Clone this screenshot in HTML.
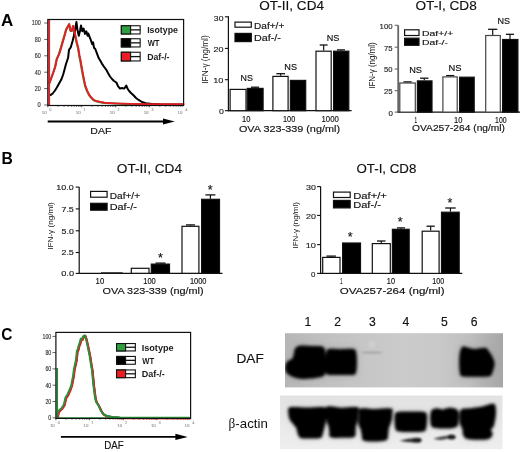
<!DOCTYPE html>
<html><head><meta charset="utf-8"><style>
html,body{margin:0;padding:0;background:#fff;}
svg{display:block;font-family:"Liberation Sans", sans-serif;filter:blur(0.35px);}
</style></head><body>
<svg width="520" height="452" viewBox="0 0 520 452">
<rect width="520" height="452" fill="#fff"/>
<text x="0.88" y="26.40" font-size="17" font-weight="bold" fill="#000" text-anchor="start" textLength="12.23" lengthAdjust="spacingAndGlyphs">A</text>
<text x="1.38" y="163.50" font-size="16.5" font-weight="bold" fill="#000" text-anchor="start" textLength="11.37" lengthAdjust="spacingAndGlyphs">B</text>
<text x="1.28" y="339.60" font-size="16.5" font-weight="bold" fill="#000" text-anchor="start" textLength="11.14" lengthAdjust="spacingAndGlyphs">C</text>
<text x="40.80" y="25.40" font-size="7" fill="#333" stroke="#333" stroke-width="0.15" text-anchor="end" textLength="9.00" lengthAdjust="spacingAndGlyphs">100</text>
<line x1="44.20" y1="23.00" x2="47.80" y2="23.00" stroke="#555" stroke-width="0.9"/>
<text x="40.80" y="41.80" font-size="7" fill="#333" stroke="#333" stroke-width="0.15" text-anchor="end" textLength="6.00" lengthAdjust="spacingAndGlyphs">80</text>
<line x1="44.20" y1="39.40" x2="47.80" y2="39.40" stroke="#555" stroke-width="0.9"/>
<text x="40.80" y="58.20" font-size="7" fill="#333" stroke="#333" stroke-width="0.15" text-anchor="end" textLength="6.00" lengthAdjust="spacingAndGlyphs">60</text>
<line x1="44.20" y1="55.80" x2="47.80" y2="55.80" stroke="#555" stroke-width="0.9"/>
<text x="40.80" y="74.60" font-size="7" fill="#333" stroke="#333" stroke-width="0.15" text-anchor="end" textLength="6.00" lengthAdjust="spacingAndGlyphs">40</text>
<line x1="44.20" y1="72.20" x2="47.80" y2="72.20" stroke="#555" stroke-width="0.9"/>
<text x="40.80" y="91.00" font-size="7" fill="#333" stroke="#333" stroke-width="0.15" text-anchor="end" textLength="6.00" lengthAdjust="spacingAndGlyphs">20</text>
<line x1="44.20" y1="88.60" x2="47.80" y2="88.60" stroke="#555" stroke-width="0.9"/>
<text x="40.80" y="107.40" font-size="7" fill="#333" stroke="#333" stroke-width="0.15" text-anchor="end" textLength="3.20" lengthAdjust="spacingAndGlyphs">0</text>
<line x1="44.20" y1="105.00" x2="47.80" y2="105.00" stroke="#555" stroke-width="0.9"/>
<line x1="47.80" y1="105.50" x2="47.80" y2="107.30" stroke="#333" stroke-width="0.8"/>
<line x1="58.02" y1="105.50" x2="58.02" y2="106.70" stroke="#333" stroke-width="0.8"/>
<line x1="64.00" y1="105.50" x2="64.00" y2="106.70" stroke="#333" stroke-width="0.8"/>
<line x1="68.24" y1="105.50" x2="68.24" y2="106.70" stroke="#333" stroke-width="0.8"/>
<line x1="71.53" y1="105.50" x2="71.53" y2="106.70" stroke="#333" stroke-width="0.8"/>
<line x1="74.22" y1="105.50" x2="74.22" y2="106.70" stroke="#333" stroke-width="0.8"/>
<line x1="76.49" y1="105.50" x2="76.49" y2="106.70" stroke="#333" stroke-width="0.8"/>
<line x1="78.46" y1="105.50" x2="78.46" y2="106.70" stroke="#333" stroke-width="0.8"/>
<line x1="80.20" y1="105.50" x2="80.20" y2="106.70" stroke="#333" stroke-width="0.8"/>
<line x1="81.75" y1="105.50" x2="81.75" y2="107.30" stroke="#333" stroke-width="0.8"/>
<line x1="91.97" y1="105.50" x2="91.97" y2="106.70" stroke="#333" stroke-width="0.8"/>
<line x1="97.95" y1="105.50" x2="97.95" y2="106.70" stroke="#333" stroke-width="0.8"/>
<line x1="102.19" y1="105.50" x2="102.19" y2="106.70" stroke="#333" stroke-width="0.8"/>
<line x1="105.48" y1="105.50" x2="105.48" y2="106.70" stroke="#333" stroke-width="0.8"/>
<line x1="108.17" y1="105.50" x2="108.17" y2="106.70" stroke="#333" stroke-width="0.8"/>
<line x1="110.44" y1="105.50" x2="110.44" y2="106.70" stroke="#333" stroke-width="0.8"/>
<line x1="112.41" y1="105.50" x2="112.41" y2="106.70" stroke="#333" stroke-width="0.8"/>
<line x1="114.15" y1="105.50" x2="114.15" y2="106.70" stroke="#333" stroke-width="0.8"/>
<line x1="115.70" y1="105.50" x2="115.70" y2="107.30" stroke="#333" stroke-width="0.8"/>
<line x1="125.92" y1="105.50" x2="125.92" y2="106.70" stroke="#333" stroke-width="0.8"/>
<line x1="131.90" y1="105.50" x2="131.90" y2="106.70" stroke="#333" stroke-width="0.8"/>
<line x1="136.14" y1="105.50" x2="136.14" y2="106.70" stroke="#333" stroke-width="0.8"/>
<line x1="139.43" y1="105.50" x2="139.43" y2="106.70" stroke="#333" stroke-width="0.8"/>
<line x1="142.12" y1="105.50" x2="142.12" y2="106.70" stroke="#333" stroke-width="0.8"/>
<line x1="144.39" y1="105.50" x2="144.39" y2="106.70" stroke="#333" stroke-width="0.8"/>
<line x1="146.36" y1="105.50" x2="146.36" y2="106.70" stroke="#333" stroke-width="0.8"/>
<line x1="148.10" y1="105.50" x2="148.10" y2="106.70" stroke="#333" stroke-width="0.8"/>
<line x1="149.65" y1="105.50" x2="149.65" y2="107.30" stroke="#333" stroke-width="0.8"/>
<line x1="159.87" y1="105.50" x2="159.87" y2="106.70" stroke="#333" stroke-width="0.8"/>
<line x1="165.85" y1="105.50" x2="165.85" y2="106.70" stroke="#333" stroke-width="0.8"/>
<line x1="170.09" y1="105.50" x2="170.09" y2="106.70" stroke="#333" stroke-width="0.8"/>
<line x1="173.38" y1="105.50" x2="173.38" y2="106.70" stroke="#333" stroke-width="0.8"/>
<line x1="176.07" y1="105.50" x2="176.07" y2="106.70" stroke="#333" stroke-width="0.8"/>
<line x1="178.34" y1="105.50" x2="178.34" y2="106.70" stroke="#333" stroke-width="0.8"/>
<line x1="180.31" y1="105.50" x2="180.31" y2="106.70" stroke="#333" stroke-width="0.8"/>
<line x1="182.05" y1="105.50" x2="182.05" y2="106.70" stroke="#333" stroke-width="0.8"/>
<text x="41.80" y="113.60" font-size="4.4" fill="#999" stroke="#999" stroke-width="0.15" text-anchor="start">10</text>
<text x="49.60" y="111.20" font-size="3.4" fill="#999" stroke="#999" stroke-width="0.15" text-anchor="start">0</text>
<text x="75.75" y="113.60" font-size="4.4" fill="#999" stroke="#999" stroke-width="0.15" text-anchor="start">10</text>
<text x="83.55" y="111.20" font-size="3.4" fill="#999" stroke="#999" stroke-width="0.15" text-anchor="start">1</text>
<text x="109.70" y="113.60" font-size="4.4" fill="#999" stroke="#999" stroke-width="0.15" text-anchor="start">10</text>
<text x="117.50" y="111.20" font-size="3.4" fill="#999" stroke="#999" stroke-width="0.15" text-anchor="start">2</text>
<text x="143.65" y="113.60" font-size="4.4" fill="#999" stroke="#999" stroke-width="0.15" text-anchor="start">10</text>
<text x="151.45" y="111.20" font-size="3.4" fill="#999" stroke="#999" stroke-width="0.15" text-anchor="start">3</text>
<text x="177.60" y="113.60" font-size="4.4" fill="#999" stroke="#999" stroke-width="0.15" text-anchor="start">10</text>
<text x="185.40" y="111.20" font-size="3.4" fill="#999" stroke="#999" stroke-width="0.15" text-anchor="start">4</text>
<polyline points="49.0,83.5 51.0,78.5 53.0,73.0 55.0,67.0 56.6,59.3 58.8,54.4 60.6,48.6 62.4,42.4 64.2,36.2 65.9,30.0 67.3,27.3 69.0,24.3 70.4,30.9 71.7,30.9 73.0,26.0 73.9,30.0 75.2,36.2 76.5,42.4 77.9,47.7 79.2,55.7 80.5,62.0 82.0,70.8 83.5,78.6 85.0,85.9 87.0,91.0 89.0,95.1 91.0,97.6 93.6,100.3 97.0,101.5 100.0,102.1 104.0,102.9 110.0,103.3 120.0,103.8 130.0,104.1 150.0,104.4 184.0,104.5" fill="none" stroke="#2a9a3a" stroke-width="2.1" stroke-linejoin="round"/>
<polyline points="49.5,94.6 50.5,95.1 52.7,93.5 55.0,90.5 56.7,87.7 58.5,84.5 61.3,79.6 63.0,75.0 64.0,71.5 66.0,64.0 68.1,57.8 69.0,49.9 70.8,47.2 72.6,41.0 73.9,35.7 75.2,29.5 76.4,22.0 77.4,29.5 78.8,35.7 80.1,30.4 81.0,25.5 82.3,31.3 83.6,28.6 85.0,33.9 86.3,31.3 87.6,35.7 88.2,33.5 90.4,38.8 92.2,44.2 93.1,42.4 94.0,47.7 95.3,49.0 97.1,53.9 98.8,58.3 100.2,60.5 101.9,63.6 103.7,66.3 105.0,68.0 106.4,70.0 108.0,73.0 110.0,76.5 112.0,79.0 114.0,81.0 116.4,82.5 118.0,86.2 120.0,88.6 122.0,88.0 124.2,88.6 125.2,87.0 126.3,85.6 127.5,88.5 128.6,90.3 131.0,93.0 133.7,95.5 136.0,98.0 139.0,100.2 142.0,102.0 145.9,103.2 152.0,104.1 160.0,104.5 184.0,104.7" fill="none" stroke="#000" stroke-width="2.0" stroke-linejoin="round"/>
<polyline points="49.3,83.3 51.3,78.3 53.3,72.8 55.3,66.8 56.9,59.1 59.1,54.2 60.9,48.4 62.7,42.2 64.5,36.0 66.2,29.8 67.6,27.1 69.3,24.1 70.7,30.7 72.0,30.7 73.3,25.8 74.2,29.8 75.5,36.0 76.8,42.2 78.2,47.5 79.5,55.5 80.8,61.8 82.3,70.6 83.8,78.4 85.3,85.7 87.3,90.8 89.3,94.9 91.3,97.4 93.9,100.1 97.3,101.3 100.3,101.9 104.3,102.7 110.3,103.1 120.3,103.6 130.3,103.9 150.3,104.2 184.3,104.3" fill="none" stroke="#ec1c24" stroke-width="1.9" stroke-linejoin="round"/>
<polyline points="49.2,19.5 49.2,105.5" fill="none" stroke="#ec1c24" stroke-width="1.8" stroke-linejoin="round"/>
<rect x="47.80" y="19.50" width="135.80" height="86.00" fill="none" stroke="#111" stroke-width="1.2"/>
<rect x="121.35" y="25.75" width="18.80" height="8.20" fill="#fff" stroke="#111" stroke-width="1.1"/>
<rect x="121.35" y="25.75" width="9.25" height="8.20" fill="#2e9e40" stroke="#111" stroke-width="1.1"/>
<line x1="130.60" y1="29.85" x2="140.20" y2="29.85" stroke="#111" stroke-width="1.3"/>
<text x="147.13" y="33.10" font-size="9.4" font-weight="bold" fill="#1a1a1a" text-anchor="start" textLength="30.79" lengthAdjust="spacingAndGlyphs">Isotype</text>
<rect x="121.35" y="38.75" width="18.80" height="8.20" fill="#fff" stroke="#111" stroke-width="1.1"/>
<rect x="121.35" y="38.75" width="9.25" height="8.20" fill="#000" stroke="#111" stroke-width="1.1"/>
<line x1="130.60" y1="42.85" x2="140.20" y2="42.85" stroke="#111" stroke-width="1.3"/>
<text x="147.70" y="46.20" font-size="9.4" font-weight="bold" fill="#1a1a1a" text-anchor="start" textLength="11.77" lengthAdjust="spacingAndGlyphs">WT</text>
<rect x="121.35" y="52.25" width="18.80" height="8.70" fill="#fff" stroke="#111" stroke-width="1.1"/>
<rect x="121.35" y="52.25" width="9.25" height="8.70" fill="#ec1c24" stroke="#111" stroke-width="1.1"/>
<line x1="130.60" y1="56.60" x2="140.20" y2="56.60" stroke="#111" stroke-width="1.3"/>
<text x="147.13" y="59.50" font-size="9.4" font-weight="bold" fill="#1a1a1a" text-anchor="start" textLength="22.42" lengthAdjust="spacingAndGlyphs">Daf-/-</text>
<line x1="47.70" y1="121.50" x2="164.00" y2="121.50" stroke="#000" stroke-width="1.8"/>
<polygon points="163,118.4 174.8,121.5 163,124.6" fill="#000"/>
<text x="90.36" y="133.60" font-size="9.8" fill="#111" stroke="#111" stroke-width="0.15" text-anchor="start" textLength="21.06" lengthAdjust="spacingAndGlyphs">DAF</text>
<text x="51.20" y="338.80" font-size="6.8" fill="#333" stroke="#333" stroke-width="0.15" text-anchor="end" textLength="8.70" lengthAdjust="spacingAndGlyphs">100</text>
<line x1="52.50" y1="336.40" x2="55.90" y2="336.40" stroke="#555" stroke-width="0.9"/>
<text x="51.20" y="355.00" font-size="6.8" fill="#333" stroke="#333" stroke-width="0.15" text-anchor="end" textLength="5.80" lengthAdjust="spacingAndGlyphs">80</text>
<line x1="52.50" y1="352.60" x2="55.90" y2="352.60" stroke="#555" stroke-width="0.9"/>
<text x="51.20" y="371.30" font-size="6.8" fill="#333" stroke="#333" stroke-width="0.15" text-anchor="end" textLength="5.80" lengthAdjust="spacingAndGlyphs">60</text>
<line x1="52.50" y1="368.90" x2="55.90" y2="368.90" stroke="#555" stroke-width="0.9"/>
<text x="51.20" y="387.60" font-size="6.8" fill="#333" stroke="#333" stroke-width="0.15" text-anchor="end" textLength="5.80" lengthAdjust="spacingAndGlyphs">40</text>
<line x1="52.50" y1="385.20" x2="55.90" y2="385.20" stroke="#555" stroke-width="0.9"/>
<text x="51.20" y="403.90" font-size="6.8" fill="#333" stroke="#333" stroke-width="0.15" text-anchor="end" textLength="5.80" lengthAdjust="spacingAndGlyphs">20</text>
<line x1="52.50" y1="401.50" x2="55.90" y2="401.50" stroke="#555" stroke-width="0.9"/>
<text x="51.20" y="420.20" font-size="6.8" fill="#333" stroke="#333" stroke-width="0.15" text-anchor="end" textLength="3.00" lengthAdjust="spacingAndGlyphs">0</text>
<line x1="52.50" y1="417.80" x2="55.90" y2="417.80" stroke="#555" stroke-width="0.9"/>
<line x1="55.90" y1="418.40" x2="55.90" y2="420.20" stroke="#333" stroke-width="0.8"/>
<line x1="66.04" y1="418.40" x2="66.04" y2="419.60" stroke="#333" stroke-width="0.8"/>
<line x1="71.97" y1="418.40" x2="71.97" y2="419.60" stroke="#333" stroke-width="0.8"/>
<line x1="76.17" y1="418.40" x2="76.17" y2="419.60" stroke="#333" stroke-width="0.8"/>
<line x1="79.44" y1="418.40" x2="79.44" y2="419.60" stroke="#333" stroke-width="0.8"/>
<line x1="82.10" y1="418.40" x2="82.10" y2="419.60" stroke="#333" stroke-width="0.8"/>
<line x1="84.36" y1="418.40" x2="84.36" y2="419.60" stroke="#333" stroke-width="0.8"/>
<line x1="86.31" y1="418.40" x2="86.31" y2="419.60" stroke="#333" stroke-width="0.8"/>
<line x1="88.03" y1="418.40" x2="88.03" y2="419.60" stroke="#333" stroke-width="0.8"/>
<line x1="89.57" y1="418.40" x2="89.57" y2="420.20" stroke="#333" stroke-width="0.8"/>
<line x1="99.71" y1="418.40" x2="99.71" y2="419.60" stroke="#333" stroke-width="0.8"/>
<line x1="105.64" y1="418.40" x2="105.64" y2="419.60" stroke="#333" stroke-width="0.8"/>
<line x1="109.85" y1="418.40" x2="109.85" y2="419.60" stroke="#333" stroke-width="0.8"/>
<line x1="113.11" y1="418.40" x2="113.11" y2="419.60" stroke="#333" stroke-width="0.8"/>
<line x1="115.78" y1="418.40" x2="115.78" y2="419.60" stroke="#333" stroke-width="0.8"/>
<line x1="118.03" y1="418.40" x2="118.03" y2="419.60" stroke="#333" stroke-width="0.8"/>
<line x1="119.99" y1="418.40" x2="119.99" y2="419.60" stroke="#333" stroke-width="0.8"/>
<line x1="121.71" y1="418.40" x2="121.71" y2="419.60" stroke="#333" stroke-width="0.8"/>
<line x1="123.25" y1="418.40" x2="123.25" y2="420.20" stroke="#333" stroke-width="0.8"/>
<line x1="133.39" y1="418.40" x2="133.39" y2="419.60" stroke="#333" stroke-width="0.8"/>
<line x1="139.32" y1="418.40" x2="139.32" y2="419.60" stroke="#333" stroke-width="0.8"/>
<line x1="143.52" y1="418.40" x2="143.52" y2="419.60" stroke="#333" stroke-width="0.8"/>
<line x1="146.79" y1="418.40" x2="146.79" y2="419.60" stroke="#333" stroke-width="0.8"/>
<line x1="149.45" y1="418.40" x2="149.45" y2="419.60" stroke="#333" stroke-width="0.8"/>
<line x1="151.71" y1="418.40" x2="151.71" y2="419.60" stroke="#333" stroke-width="0.8"/>
<line x1="153.66" y1="418.40" x2="153.66" y2="419.60" stroke="#333" stroke-width="0.8"/>
<line x1="155.38" y1="418.40" x2="155.38" y2="419.60" stroke="#333" stroke-width="0.8"/>
<line x1="156.92" y1="418.40" x2="156.92" y2="420.20" stroke="#333" stroke-width="0.8"/>
<line x1="167.06" y1="418.40" x2="167.06" y2="419.60" stroke="#333" stroke-width="0.8"/>
<line x1="172.99" y1="418.40" x2="172.99" y2="419.60" stroke="#333" stroke-width="0.8"/>
<line x1="177.20" y1="418.40" x2="177.20" y2="419.60" stroke="#333" stroke-width="0.8"/>
<line x1="180.46" y1="418.40" x2="180.46" y2="419.60" stroke="#333" stroke-width="0.8"/>
<line x1="183.13" y1="418.40" x2="183.13" y2="419.60" stroke="#333" stroke-width="0.8"/>
<line x1="185.38" y1="418.40" x2="185.38" y2="419.60" stroke="#333" stroke-width="0.8"/>
<line x1="187.34" y1="418.40" x2="187.34" y2="419.60" stroke="#333" stroke-width="0.8"/>
<line x1="189.06" y1="418.40" x2="189.06" y2="419.60" stroke="#333" stroke-width="0.8"/>
<text x="49.90" y="426.50" font-size="4.4" fill="#999" stroke="#999" stroke-width="0.15" text-anchor="start">10</text>
<text x="57.70" y="424.10" font-size="3.4" fill="#999" stroke="#999" stroke-width="0.15" text-anchor="start">0</text>
<text x="83.57" y="426.50" font-size="4.4" fill="#999" stroke="#999" stroke-width="0.15" text-anchor="start">10</text>
<text x="91.37" y="424.10" font-size="3.4" fill="#999" stroke="#999" stroke-width="0.15" text-anchor="start">1</text>
<text x="117.25" y="426.50" font-size="4.4" fill="#999" stroke="#999" stroke-width="0.15" text-anchor="start">10</text>
<text x="125.05" y="424.10" font-size="3.4" fill="#999" stroke="#999" stroke-width="0.15" text-anchor="start">2</text>
<text x="150.92" y="426.50" font-size="4.4" fill="#999" stroke="#999" stroke-width="0.15" text-anchor="start">10</text>
<text x="158.72" y="424.10" font-size="3.4" fill="#999" stroke="#999" stroke-width="0.15" text-anchor="start">3</text>
<text x="184.60" y="426.50" font-size="4.4" fill="#999" stroke="#999" stroke-width="0.15" text-anchor="start">10</text>
<text x="192.40" y="424.10" font-size="3.4" fill="#999" stroke="#999" stroke-width="0.15" text-anchor="start">4</text>
<polyline points="57.7,418.4 58.3,413.2 59.6,410.7 62.0,408.7 64.3,405.2 66.1,397.7 67.8,395.4 70.1,390.2 71.8,385.6 73.6,376.2 74.5,369.2 76.5,360.3 77.4,351.4 78.3,349.7 79.1,346.1 80.1,343.7 81.3,339.0 82.4,339.7 83.6,336.8 85.3,335.8 86.6,339.9 88.4,347.9 90.2,356.7 91.5,365.6 92.4,370.2 93.8,385.2 95.5,398.2 96.6,402.3 98.9,405.8 101.3,411.0 103.6,414.4 107.0,416.2 112.8,417.3 120.1,417.8 190.1,418.1" fill="none" stroke="#111" stroke-width="2.0" stroke-linejoin="round"/>
<polyline points="58.0,418.8 58.6,413.6 59.9,411.1 62.3,409.1 64.6,405.6 66.4,398.1 68.1,395.8 70.4,390.6 72.1,386.0 73.9,376.6 74.8,369.6 76.8,360.7 77.7,351.8 78.6,350.1 79.4,346.5 80.4,344.1 81.6,339.4 82.7,340.1 83.9,337.2 85.6,336.2 86.9,340.3 88.7,348.3 90.5,357.1 91.8,366.0 92.7,370.6 94.1,385.6 95.8,398.6 96.9,402.7 99.2,406.2 101.6,411.4 103.9,414.8 107.3,416.6 113.1,417.7 120.4,418.2 190.4,418.5" fill="none" stroke="#ec1c24" stroke-width="1.9" stroke-linejoin="round"/>
<polyline points="57.1,417.9 57.7,412.7 59.0,410.2 61.4,408.2 63.7,404.7 65.5,397.2 67.2,394.9 69.5,389.7 71.2,385.1 73.0,375.7 73.9,368.7 75.9,359.8 76.8,350.9 77.7,349.2 78.5,345.6 79.5,343.2 80.7,338.5 81.8,339.2 83.0,336.3 84.7,335.3 86.0,339.4 87.8,347.4 89.6,356.2 90.9,365.1 91.8,369.7 93.2,384.7 94.9,397.7 96.0,401.8 98.3,405.3 100.7,410.5 103.0,413.9 106.4,415.7 112.2,416.8 119.5,417.3 189.5,417.6" fill="none" stroke="#25953a" stroke-width="1.8" stroke-linejoin="round"/>
<polyline points="57.2,368.0 57.2,418.4" fill="none" stroke="#1e8a35" stroke-width="1.7" stroke-linejoin="round"/>
<polyline points="56.0,418.0 190.5,418.0" fill="none" stroke="#2a9a3a" stroke-width="1.3" stroke-linejoin="round"/>
<rect x="55.90" y="332.40" width="134.70" height="86.00" fill="none" stroke="#111" stroke-width="1.2"/>
<rect x="116.55" y="343.55" width="18.80" height="7.40" fill="#fff" stroke="#111" stroke-width="1.1"/>
<rect x="116.55" y="343.55" width="9.05" height="7.40" fill="#2e9e40" stroke="#111" stroke-width="1.1"/>
<line x1="125.60" y1="347.25" x2="135.40" y2="347.25" stroke="#111" stroke-width="1.3"/>
<text x="141.71" y="350.70" font-size="9.4" font-weight="bold" fill="#1a1a1a" text-anchor="start" textLength="31.92" lengthAdjust="spacingAndGlyphs">Isotype</text>
<rect x="116.55" y="356.45" width="18.80" height="7.80" fill="#fff" stroke="#111" stroke-width="1.1"/>
<rect x="116.55" y="356.45" width="9.05" height="7.80" fill="#000" stroke="#111" stroke-width="1.1"/>
<line x1="125.60" y1="360.35" x2="135.40" y2="360.35" stroke="#111" stroke-width="1.3"/>
<text x="142.30" y="363.50" font-size="9.4" font-weight="bold" fill="#1a1a1a" text-anchor="start" textLength="11.87" lengthAdjust="spacingAndGlyphs">WT</text>
<rect x="116.55" y="369.95" width="18.80" height="7.70" fill="#fff" stroke="#111" stroke-width="1.1"/>
<rect x="116.55" y="369.95" width="9.05" height="7.70" fill="#ec1c24" stroke="#111" stroke-width="1.1"/>
<line x1="125.60" y1="373.80" x2="135.40" y2="373.80" stroke="#111" stroke-width="1.3"/>
<text x="141.71" y="377.00" font-size="9.4" font-weight="bold" fill="#1a1a1a" text-anchor="start" textLength="23.05" lengthAdjust="spacingAndGlyphs">Daf-/-</text>
<line x1="60.90" y1="436.90" x2="176.40" y2="436.90" stroke="#000" stroke-width="1.8"/>
<polygon points="175.4,433.79999999999995 187.7,436.9 175.4,440.0" fill="#000"/>
<text x="104.22" y="449.20" font-size="10.4" fill="#111" stroke="#111" stroke-width="0.15" text-anchor="start" textLength="19.47" lengthAdjust="spacingAndGlyphs">DAF</text>
<line x1="228.40" y1="16.30" x2="228.40" y2="111.30" stroke="#111" stroke-width="1.2"/>
<line x1="227.90" y1="110.70" x2="351.60" y2="110.70" stroke="#111" stroke-width="1.2"/>
<line x1="224.90" y1="16.80" x2="228.40" y2="16.80" stroke="#111" stroke-width="1.1"/>
<line x1="224.90" y1="48.40" x2="228.40" y2="48.40" stroke="#111" stroke-width="1.1"/>
<line x1="224.90" y1="79.70" x2="228.40" y2="79.70" stroke="#111" stroke-width="1.1"/>
<line x1="224.90" y1="110.70" x2="228.40" y2="110.70" stroke="#111" stroke-width="1.1"/>
<text x="213.86" y="20.50" font-size="8" fill="#222" stroke="#222" stroke-width="0.15" text-anchor="start" textLength="9.57" lengthAdjust="spacingAndGlyphs">30</text>
<text x="213.45" y="52.00" font-size="8" fill="#222" stroke="#222" stroke-width="0.15" text-anchor="start" textLength="9.98" lengthAdjust="spacingAndGlyphs">20</text>
<text x="213.21" y="83.30" font-size="8" fill="#222" stroke="#222" stroke-width="0.15" text-anchor="start" textLength="10.23" lengthAdjust="spacingAndGlyphs">10</text>
<text x="219.05" y="114.20" font-size="8" fill="#222" stroke="#222" stroke-width="0.15" text-anchor="start" textLength="4.87" lengthAdjust="spacingAndGlyphs">0</text>
<rect x="230.10" y="89.40" width="15.90" height="21.30" fill="#fff" stroke="#111" stroke-width="1.2"/>
<line x1="255.05" y1="87.80" x2="255.05" y2="87.20" stroke="#111" stroke-width="1.2"/>
<line x1="251.00" y1="87.20" x2="259.10" y2="87.20" stroke="#111" stroke-width="1.3"/>
<rect x="247.20" y="88.40" width="15.90" height="22.30" fill="#000" stroke="#111" stroke-width="1.2"/>
<line x1="280.65" y1="75.80" x2="280.65" y2="73.70" stroke="#111" stroke-width="1.2"/>
<line x1="276.30" y1="73.70" x2="285.00" y2="73.70" stroke="#111" stroke-width="1.3"/>
<rect x="272.90" y="76.40" width="15.20" height="34.30" fill="#fff" stroke="#111" stroke-width="1.2"/>
<rect x="290.40" y="80.40" width="15.30" height="30.30" fill="#000" stroke="#111" stroke-width="1.2"/>
<line x1="323.65" y1="50.60" x2="323.65" y2="45.00" stroke="#111" stroke-width="1.2"/>
<line x1="319.70" y1="45.00" x2="327.60" y2="45.00" stroke="#111" stroke-width="1.3"/>
<rect x="316.00" y="51.20" width="15.20" height="59.50" fill="#fff" stroke="#111" stroke-width="1.2"/>
<line x1="341.00" y1="50.60" x2="341.00" y2="49.90" stroke="#111" stroke-width="1.2"/>
<line x1="337.00" y1="49.90" x2="345.00" y2="49.90" stroke="#111" stroke-width="1.3"/>
<rect x="333.60" y="51.20" width="15.20" height="59.50" fill="#000" stroke="#111" stroke-width="1.2"/>
<text x="240.49" y="81.20" font-size="8.6" fill="#111" stroke="#111" stroke-width="0.15" text-anchor="start" textLength="12.35" lengthAdjust="spacingAndGlyphs">NS</text>
<text x="284.37" y="70.00" font-size="8.6" fill="#111" stroke="#111" stroke-width="0.15" text-anchor="start" textLength="12.68" lengthAdjust="spacingAndGlyphs">NS</text>
<text x="326.67" y="41.40" font-size="8.6" fill="#111" stroke="#111" stroke-width="0.15" text-anchor="start" textLength="12.68" lengthAdjust="spacingAndGlyphs">NS</text>
<text x="242.04" y="121.50" font-size="8.3" fill="#111" stroke="#111" stroke-width="0.15" text-anchor="start" textLength="8.34" lengthAdjust="spacingAndGlyphs">10</text>
<text x="283.05" y="121.50" font-size="8.3" fill="#111" stroke="#111" stroke-width="0.15" text-anchor="start" textLength="12.12" lengthAdjust="spacingAndGlyphs">100</text>
<text x="321.52" y="121.50" font-size="8.3" fill="#111" stroke="#111" stroke-width="0.15" text-anchor="start" textLength="17.25" lengthAdjust="spacingAndGlyphs">1000</text>
<text x="238.91" y="131.60" font-size="9.2" fill="#111" stroke="#111" stroke-width="0.15" text-anchor="start" textLength="101.09" lengthAdjust="spacingAndGlyphs">OVA 323-339 (ng/ml)</text>
<text x="259.29" y="9.80" font-size="13" fill="#111" stroke="#111" stroke-width="0.15" text-anchor="start" textLength="64.66" lengthAdjust="spacingAndGlyphs">OT-II, CD4</text>
<text x="254.10" y="29.10" font-size="8.3" fill="#111" stroke="#111" stroke-width="0.15" text-anchor="start" textLength="30.18" lengthAdjust="spacingAndGlyphs">Daf+/+</text>
<text x="254.04" y="40.90" font-size="8.3" fill="#111" stroke="#111" stroke-width="0.15" text-anchor="start" textLength="26.84" lengthAdjust="spacingAndGlyphs">Daf-/-</text>
<text transform="translate(204.8,59.5) rotate(-90)" x="0" y="0" font-size="8.6" fill="#111" text-anchor="middle" textLength="48.5" lengthAdjust="spacingAndGlyphs" dominant-baseline="central">IFN-&#947; (ng/ml)</text>
<rect x="235.0" y="22.1" width="16.30" height="5.10" fill="#fff" stroke="#111" stroke-width="1.2"/>
<rect x="235.0" y="33.4" width="16.30" height="8.20" fill="#000" stroke="#111" stroke-width="1.2"/>
<line x1="398.20" y1="25.30" x2="398.20" y2="112.70" stroke="#666" stroke-width="1.8"/>
<line x1="397.70" y1="112.10" x2="520.00" y2="112.10" stroke="#111" stroke-width="1.2"/>
<line x1="394.70" y1="25.30" x2="398.20" y2="25.30" stroke="#666" stroke-width="1.1"/>
<line x1="394.70" y1="47.20" x2="398.20" y2="47.20" stroke="#666" stroke-width="1.1"/>
<line x1="394.70" y1="69.00" x2="398.20" y2="69.00" stroke="#666" stroke-width="1.1"/>
<line x1="394.70" y1="90.70" x2="398.20" y2="90.70" stroke="#666" stroke-width="1.1"/>
<line x1="394.70" y1="112.10" x2="398.20" y2="112.10" stroke="#666" stroke-width="1.1"/>
<text x="379.62" y="28.60" font-size="8" fill="#222" stroke="#222" stroke-width="0.15" text-anchor="start" textLength="12.98" lengthAdjust="spacingAndGlyphs">100</text>
<text x="384.01" y="50.60" font-size="8" fill="#222" stroke="#222" stroke-width="0.15" text-anchor="start" textLength="8.62" lengthAdjust="spacingAndGlyphs">75</text>
<text x="384.09" y="72.40" font-size="8" fill="#222" stroke="#222" stroke-width="0.15" text-anchor="start" textLength="8.49" lengthAdjust="spacingAndGlyphs">50</text>
<text x="384.01" y="94.40" font-size="8" fill="#222" stroke="#222" stroke-width="0.15" text-anchor="start" textLength="8.62" lengthAdjust="spacingAndGlyphs">25</text>
<text x="388.38" y="116.00" font-size="8" fill="#222" stroke="#222" stroke-width="0.15" text-anchor="start" textLength="4.40" lengthAdjust="spacingAndGlyphs">0</text>
<line x1="407.55" y1="82.40" x2="407.55" y2="81.90" stroke="#111" stroke-width="1.2"/>
<line x1="403.40" y1="81.90" x2="411.70" y2="81.90" stroke="#111" stroke-width="1.3"/>
<rect x="399.80" y="83.00" width="15.50" height="29.10" fill="#fff" stroke="#444" stroke-width="1.2"/>
<line x1="424.30" y1="80.30" x2="424.30" y2="78.20" stroke="#111" stroke-width="1.2"/>
<line x1="420.10" y1="78.20" x2="428.50" y2="78.20" stroke="#111" stroke-width="1.3"/>
<rect x="417.40" y="80.90" width="14.60" height="31.20" fill="#000" stroke="#111" stroke-width="1.2"/>
<line x1="450.20" y1="76.30" x2="450.20" y2="75.60" stroke="#111" stroke-width="1.2"/>
<line x1="446.10" y1="75.60" x2="454.30" y2="75.60" stroke="#111" stroke-width="1.3"/>
<rect x="442.90" y="76.90" width="14.30" height="35.20" fill="#fff" stroke="#444" stroke-width="1.2"/>
<rect x="459.60" y="77.20" width="14.60" height="34.90" fill="#000" stroke="#111" stroke-width="1.2"/>
<line x1="492.70" y1="34.90" x2="492.70" y2="29.30" stroke="#111" stroke-width="1.2"/>
<line x1="488.10" y1="29.30" x2="497.30" y2="29.30" stroke="#111" stroke-width="1.3"/>
<rect x="485.70" y="35.50" width="14.60" height="76.60" fill="#fff" stroke="#444" stroke-width="1.2"/>
<line x1="510.00" y1="38.90" x2="510.00" y2="34.30" stroke="#111" stroke-width="1.2"/>
<line x1="505.90" y1="34.30" x2="514.10" y2="34.30" stroke="#111" stroke-width="1.3"/>
<rect x="502.60" y="39.50" width="15.30" height="72.60" fill="#000" stroke="#111" stroke-width="1.2"/>
<text x="409.16" y="73.00" font-size="8.6" fill="#111" stroke="#111" stroke-width="0.15" text-anchor="start" textLength="12.79" lengthAdjust="spacingAndGlyphs">NS</text>
<text x="448.55" y="70.70" font-size="8.6" fill="#111" stroke="#111" stroke-width="0.15" text-anchor="start" textLength="13.01" lengthAdjust="spacingAndGlyphs">NS</text>
<text x="497.48" y="23.50" font-size="8.6" fill="#111" stroke="#111" stroke-width="0.15" text-anchor="start" textLength="12.57" lengthAdjust="spacingAndGlyphs">NS</text>
<text x="414.56" y="122.60" font-size="8.3" fill="#111" stroke="#111" stroke-width="0.15" text-anchor="start" textLength="2.56" lengthAdjust="spacingAndGlyphs">1</text>
<text x="454.04" y="122.60" font-size="8.3" fill="#111" stroke="#111" stroke-width="0.15" text-anchor="start" textLength="8.34" lengthAdjust="spacingAndGlyphs">10</text>
<text x="495.08" y="122.60" font-size="8.3" fill="#111" stroke="#111" stroke-width="0.15" text-anchor="start" textLength="11.48" lengthAdjust="spacingAndGlyphs">100</text>
<text x="412.14" y="131.40" font-size="9.2" fill="#111" stroke="#111" stroke-width="0.15" text-anchor="start" textLength="92.89" lengthAdjust="spacingAndGlyphs">OVA257-264 (ng/ml)</text>
<text x="415.49" y="9.70" font-size="13" fill="#111" stroke="#111" stroke-width="0.15" text-anchor="start" textLength="61.26" lengthAdjust="spacingAndGlyphs">OT-I, CD8</text>
<text x="422.07" y="36.30" font-size="7.8" fill="#111" stroke="#111" stroke-width="0.15" text-anchor="start" textLength="31.12" lengthAdjust="spacingAndGlyphs">Daf+/+</text>
<text x="422.07" y="45.10" font-size="7.8" fill="#111" stroke="#111" stroke-width="0.15" text-anchor="start" textLength="25.90" lengthAdjust="spacingAndGlyphs">Daf-/-</text>
<text transform="translate(372,65.5) rotate(-90)" x="0" y="0" font-size="8.4" fill="#111" text-anchor="middle" textLength="46.5" lengthAdjust="spacingAndGlyphs" dominant-baseline="central">IFN-&#947; (ng/ml)</text>
<rect x="404.6" y="29.8" width="14.40" height="5.70" fill="#fff" stroke="#111" stroke-width="1.2"/>
<rect x="404.6" y="38.2" width="14.40" height="7.10" fill="#000" stroke="#111" stroke-width="1.2"/>
<line x1="79.20" y1="187.10" x2="79.20" y2="273.90" stroke="#111" stroke-width="1.2"/>
<line x1="78.70" y1="273.30" x2="222.50" y2="273.30" stroke="#111" stroke-width="1.2"/>
<line x1="75.70" y1="187.10" x2="79.20" y2="187.10" stroke="#111" stroke-width="1.1"/>
<line x1="75.70" y1="208.90" x2="79.20" y2="208.90" stroke="#111" stroke-width="1.1"/>
<line x1="75.70" y1="230.80" x2="79.20" y2="230.80" stroke="#111" stroke-width="1.1"/>
<line x1="75.70" y1="252.50" x2="79.20" y2="252.50" stroke="#111" stroke-width="1.1"/>
<line x1="75.70" y1="273.40" x2="79.20" y2="273.40" stroke="#111" stroke-width="1.1"/>
<text x="56.33" y="189.90" font-size="7.3" fill="#222" stroke="#222" stroke-width="0.15" text-anchor="start" textLength="17.39" lengthAdjust="spacingAndGlyphs">10.0</text>
<text x="61.45" y="211.60" font-size="7.3" fill="#222" stroke="#222" stroke-width="0.15" text-anchor="start" textLength="12.40" lengthAdjust="spacingAndGlyphs">7.5</text>
<text x="61.55" y="233.50" font-size="7.3" fill="#222" stroke="#222" stroke-width="0.15" text-anchor="start" textLength="12.26" lengthAdjust="spacingAndGlyphs">5.0</text>
<text x="61.45" y="255.30" font-size="7.3" fill="#222" stroke="#222" stroke-width="0.15" text-anchor="start" textLength="12.40" lengthAdjust="spacingAndGlyphs">2.5</text>
<text x="61.23" y="276.30" font-size="7.3" fill="#222" stroke="#222" stroke-width="0.15" text-anchor="start" textLength="12.90" lengthAdjust="spacingAndGlyphs">0.0</text>
<rect x="101.60" y="272.90" width="20.50" height="0.40" fill="#fff" stroke="#111" stroke-width="1.2"/>
<rect x="131.30" y="268.30" width="17.70" height="5.00" fill="#fff" stroke="#111" stroke-width="1.2"/>
<line x1="160.50" y1="263.50" x2="160.50" y2="263.10" stroke="#111" stroke-width="1.2"/>
<line x1="155.50" y1="263.10" x2="165.50" y2="263.10" stroke="#111" stroke-width="1.3"/>
<rect x="151.30" y="264.10" width="18.20" height="9.20" fill="#000" stroke="#111" stroke-width="1.2"/>
<line x1="190.50" y1="225.70" x2="190.50" y2="224.90" stroke="#111" stroke-width="1.2"/>
<line x1="186.00" y1="224.90" x2="195.00" y2="224.90" stroke="#111" stroke-width="1.3"/>
<rect x="182.00" y="226.30" width="16.90" height="47.00" fill="#fff" stroke="#111" stroke-width="1.2"/>
<line x1="210.40" y1="198.70" x2="210.40" y2="194.90" stroke="#111" stroke-width="1.2"/>
<line x1="205.40" y1="194.90" x2="215.40" y2="194.90" stroke="#111" stroke-width="1.3"/>
<rect x="201.60" y="199.30" width="17.90" height="74.00" fill="#000" stroke="#111" stroke-width="1.2"/>
<text x="95.62" y="283.80" font-size="8.2" fill="#111" stroke="#111" stroke-width="0.15" text-anchor="start" textLength="8.57" lengthAdjust="spacingAndGlyphs">10</text>
<text x="143.24" y="283.80" font-size="8.2" fill="#111" stroke="#111" stroke-width="0.15" text-anchor="start" textLength="12.55" lengthAdjust="spacingAndGlyphs">100</text>
<text x="189.94" y="283.80" font-size="8.2" fill="#111" stroke="#111" stroke-width="0.15" text-anchor="start" textLength="16.51" lengthAdjust="spacingAndGlyphs">1000</text>
<text x="102.61" y="293.60" font-size="9" fill="#111" stroke="#111" stroke-width="0.15" text-anchor="start" textLength="100.99" lengthAdjust="spacingAndGlyphs">OVA 323-339 (ng/ml)</text>
<text x="116.79" y="173.10" font-size="12.8" fill="#111" stroke="#111" stroke-width="0.15" text-anchor="start" textLength="65.27" lengthAdjust="spacingAndGlyphs">OT-II, CD4</text>
<text x="109.79" y="198.50" font-size="8.5" fill="#111" stroke="#111" stroke-width="0.15" text-anchor="start" textLength="30.28" lengthAdjust="spacingAndGlyphs">Daf+/+</text>
<text x="109.73" y="210.30" font-size="8.5" fill="#111" stroke="#111" stroke-width="0.15" text-anchor="start" textLength="27.16" lengthAdjust="spacingAndGlyphs">Daf-/-</text>
<text x="160.40" y="261.84" font-size="12.5" fill="#111" stroke="#111" stroke-width="0.15" text-anchor="middle">*</text>
<text x="210.10" y="194.34" font-size="12.5" fill="#111" stroke="#111" stroke-width="0.15" text-anchor="middle">*</text>
<text transform="translate(50.5,226) rotate(-90)" x="0" y="0" font-size="7.8" fill="#111" text-anchor="middle" textLength="47.4" lengthAdjust="spacingAndGlyphs" dominant-baseline="central">IFN-&#947; (ng/ml)</text>
<rect x="90.6" y="191.4" width="16.50" height="5.80" fill="#fff" stroke="#111" stroke-width="1.2"/>
<rect x="90.6" y="203.29999999999998" width="16.50" height="6.90" fill="#000" stroke="#111" stroke-width="1.2"/>
<line x1="320.60" y1="186.40" x2="320.60" y2="274.00" stroke="#111" stroke-width="1.2"/>
<line x1="320.10" y1="273.40" x2="462.30" y2="273.40" stroke="#111" stroke-width="1.2"/>
<line x1="317.10" y1="186.60" x2="320.60" y2="186.60" stroke="#111" stroke-width="1.1"/>
<line x1="317.10" y1="215.40" x2="320.60" y2="215.40" stroke="#111" stroke-width="1.1"/>
<line x1="317.10" y1="244.60" x2="320.60" y2="244.60" stroke="#111" stroke-width="1.1"/>
<line x1="317.10" y1="273.40" x2="320.60" y2="273.40" stroke="#111" stroke-width="1.1"/>
<text x="306.04" y="190.40" font-size="7.6" fill="#222" stroke="#222" stroke-width="0.15" text-anchor="start" textLength="9.89" lengthAdjust="spacingAndGlyphs">30</text>
<text x="305.95" y="219.20" font-size="7.6" fill="#222" stroke="#222" stroke-width="0.15" text-anchor="start" textLength="9.98" lengthAdjust="spacingAndGlyphs">20</text>
<text x="305.71" y="248.30" font-size="7.6" fill="#222" stroke="#222" stroke-width="0.15" text-anchor="start" textLength="10.23" lengthAdjust="spacingAndGlyphs">10</text>
<text x="311.08" y="277.10" font-size="7.6" fill="#222" stroke="#222" stroke-width="0.15" text-anchor="start" textLength="4.40" lengthAdjust="spacingAndGlyphs">0</text>
<line x1="331.20" y1="256.80" x2="331.20" y2="256.10" stroke="#111" stroke-width="1.2"/>
<line x1="326.50" y1="256.10" x2="335.90" y2="256.10" stroke="#111" stroke-width="1.3"/>
<rect x="322.70" y="257.40" width="17.30" height="16.00" fill="#fff" stroke="#111" stroke-width="1.2"/>
<rect x="342.60" y="243.00" width="17.90" height="30.40" fill="#000" stroke="#111" stroke-width="1.2"/>
<line x1="381.25" y1="243.00" x2="381.25" y2="241.00" stroke="#111" stroke-width="1.2"/>
<line x1="377.00" y1="241.00" x2="385.50" y2="241.00" stroke="#111" stroke-width="1.3"/>
<rect x="372.30" y="243.60" width="18.00" height="29.80" fill="#fff" stroke="#111" stroke-width="1.2"/>
<line x1="401.00" y1="228.70" x2="401.00" y2="227.90" stroke="#111" stroke-width="1.2"/>
<line x1="397.00" y1="227.90" x2="405.00" y2="227.90" stroke="#111" stroke-width="1.3"/>
<rect x="392.40" y="229.30" width="16.80" height="44.10" fill="#000" stroke="#111" stroke-width="1.2"/>
<line x1="430.65" y1="230.60" x2="430.65" y2="226.20" stroke="#111" stroke-width="1.2"/>
<line x1="426.50" y1="226.20" x2="434.80" y2="226.20" stroke="#111" stroke-width="1.3"/>
<rect x="422.20" y="231.20" width="16.90" height="42.20" fill="#fff" stroke="#111" stroke-width="1.2"/>
<line x1="450.45" y1="211.60" x2="450.45" y2="208.00" stroke="#111" stroke-width="1.2"/>
<line x1="445.20" y1="208.00" x2="455.70" y2="208.00" stroke="#111" stroke-width="1.3"/>
<rect x="441.50" y="212.20" width="17.70" height="61.20" fill="#000" stroke="#111" stroke-width="1.2"/>
<text x="340.31" y="283.80" font-size="8.2" fill="#111" stroke="#111" stroke-width="0.15" text-anchor="start" textLength="2.17" lengthAdjust="spacingAndGlyphs">1</text>
<text x="386.85" y="283.80" font-size="8.2" fill="#111" stroke="#111" stroke-width="0.15" text-anchor="start" textLength="8.12" lengthAdjust="spacingAndGlyphs">10</text>
<text x="432.27" y="283.80" font-size="8.2" fill="#111" stroke="#111" stroke-width="0.15" text-anchor="start" textLength="11.80" lengthAdjust="spacingAndGlyphs">100</text>
<text x="339.68" y="293.60" font-size="9" fill="#111" stroke="#111" stroke-width="0.15" text-anchor="start" textLength="104.83" lengthAdjust="spacingAndGlyphs">OVA257-264 (ng/ml)</text>
<text x="356.50" y="173.30" font-size="12.8" fill="#111" stroke="#111" stroke-width="0.15" text-anchor="start" textLength="59.84" lengthAdjust="spacingAndGlyphs">OT-I, CD8</text>
<text x="353.20" y="198.70" font-size="8.5" fill="#111" stroke="#111" stroke-width="0.15" text-anchor="start" textLength="33.73" lengthAdjust="spacingAndGlyphs">Daf+/+</text>
<text x="353.21" y="207.70" font-size="8.5" fill="#111" stroke="#111" stroke-width="0.15" text-anchor="start" textLength="27.69" lengthAdjust="spacingAndGlyphs">Daf-/-</text>
<text x="350.30" y="240.64" font-size="12.5" fill="#111" stroke="#111" stroke-width="0.15" text-anchor="middle">*</text>
<text x="400.20" y="225.94" font-size="12.5" fill="#111" stroke="#111" stroke-width="0.15" text-anchor="middle">*</text>
<text x="449.90" y="206.54" font-size="12.5" fill="#111" stroke="#111" stroke-width="0.15" text-anchor="middle">*</text>
<text transform="translate(295.5,225.3) rotate(-90)" x="0" y="0" font-size="7.8" fill="#111" text-anchor="middle" textLength="46.4" lengthAdjust="spacingAndGlyphs" dominant-baseline="central">IFN-&#947; (ng/ml)</text>
<rect x="333.5" y="192.1" width="16.70" height="5.40" fill="#fff" stroke="#111" stroke-width="1.2"/>
<rect x="333.5" y="200.4" width="16.70" height="7.50" fill="#000" stroke="#111" stroke-width="1.2"/>
<text x="308.00" y="326.20" font-size="12.2" fill="#111" stroke="#111" stroke-width="0.15" text-anchor="middle">1</text>
<text x="337.70" y="326.20" font-size="12.2" fill="#111" stroke="#111" stroke-width="0.15" text-anchor="middle">2</text>
<text x="372.30" y="326.20" font-size="12.2" fill="#111" stroke="#111" stroke-width="0.15" text-anchor="middle">3</text>
<text x="406.00" y="326.20" font-size="12.2" fill="#111" stroke="#111" stroke-width="0.15" text-anchor="middle">4</text>
<text x="444.35" y="326.20" font-size="12.2" fill="#111" stroke="#111" stroke-width="0.15" text-anchor="middle">5</text>
<text x="474.25" y="326.20" font-size="12.2" fill="#111" stroke="#111" stroke-width="0.15" text-anchor="middle">6</text>
<text x="236.51" y="363.00" font-size="13.5" fill="#111" stroke="#111" stroke-width="0.15" text-anchor="start" textLength="27.34" lengthAdjust="spacingAndGlyphs">DAF</text>
<text x="228.6" y="428.4" font-size="13.6" fill="#111" textLength="39.2" lengthAdjust="spacingAndGlyphs"><tspan font-family="Liberation Serif">&#946;</tspan>-actin</text>
<defs>
<linearGradient id="gdaf" x1="0" y1="0" x2="1" y2="0">
<stop offset="0" stop-color="#b6b6b6"/><stop offset="0.15" stop-color="#bfbfbf"/><stop offset="0.35" stop-color="#c6c6c6"/><stop offset="0.55" stop-color="#cbcbcb"/><stop offset="0.72" stop-color="#c8c8c8"/><stop offset="0.85" stop-color="#bebebe"/><stop offset="1" stop-color="#a6a6a6"/>
</linearGradient>
<linearGradient id="gact" x1="0" y1="0" x2="0" y2="1">
<stop offset="0" stop-color="#e2e2e2"/><stop offset="0.5" stop-color="#e9e9e9"/><stop offset="1" stop-color="#eeeeee"/>
</linearGradient>
<filter id="bl" x="-20%" y="-20%" width="140%" height="140%"><feGaussianBlur stdDeviation="1.4"/></filter>
<filter id="bl2" x="-20%" y="-50%" width="140%" height="200%"><feGaussianBlur stdDeviation="0.9"/></filter>
<filter id="bl4" x="-30%" y="-30%" width="160%" height="160%"><feGaussianBlur stdDeviation="3.5"/></filter>
</defs>
<rect x="285" y="333.2" width="218" height="54.2" fill="url(#gdaf)"/>
<rect x="280" y="395.5" width="222.5" height="53.7" fill="url(#gact)"/>
<g clip-path="url(#cdaf)">
<clipPath id="cdaf"><rect x="285" y="333.2" width="218" height="54.2"/></clipPath>
<g filter="url(#bl4)" fill="#8a8a8a" opacity="0.55">
<path d="M295.40,348.00 C296.00,347.28 296.98,346.62 298.00,346.20 C299.02,345.78 299.33,345.55 301.50,345.50 C303.67,345.45 307.67,345.77 311.00,345.90 C314.33,346.03 319.20,345.73 321.50,346.30 C323.80,346.87 324.05,347.22 324.80,349.30 C325.55,351.38 325.80,355.18 326.00,358.80 C326.20,362.42 326.37,368.18 326.00,371.00 C325.63,373.82 325.05,374.63 323.80,375.70 C322.55,376.77 320.80,376.92 318.50,377.40 C316.20,377.88 312.58,378.35 310.00,378.60 C307.42,378.85 305.17,378.95 303.00,378.90 C300.83,378.85 299.03,378.78 297.00,378.30 C294.97,377.82 292.58,376.95 290.80,376.00 C289.02,375.05 287.23,373.93 286.30,372.60 C285.37,371.27 285.32,369.35 285.20,368.00 C285.08,366.65 285.18,365.62 285.60,364.50 C286.02,363.38 286.58,362.30 287.70,361.30 C288.82,360.30 291.28,359.72 292.30,358.50 C293.32,357.28 293.45,355.33 293.80,354.00 C294.15,352.67 294.13,351.50 294.40,350.50 C294.67,349.50 294.80,348.72 295.40,348.00 Z"/>
<path d="M326.50,351.50 C327.07,349.33 326.58,349.38 329.00,349.00 C331.42,348.62 337.00,349.22 341.00,349.20 C345.00,349.18 350.50,348.52 353.00,348.90 C355.50,349.28 355.35,349.32 356.00,351.50 C356.65,353.68 356.90,358.50 356.90,362.00 C356.90,365.50 356.65,370.35 356.00,372.50 C355.35,374.65 355.50,374.48 353.00,374.90 C350.50,375.32 345.00,375.00 341.00,375.00 C337.00,375.00 331.50,375.32 329.00,374.90 C326.50,374.48 326.57,374.65 326.00,372.50 C325.43,370.35 325.52,365.50 325.60,362.00 C325.68,358.50 325.93,353.67 326.50,351.50 Z"/>
<path d="M461.00,349.00 C461.65,347.77 461.33,346.60 463.50,346.60 C465.67,346.60 470.42,348.80 474.00,349.00 C477.58,349.20 482.67,347.63 485.00,347.80 C487.33,347.97 486.83,348.63 488.00,350.00 C489.17,351.37 490.90,353.77 492.00,356.00 C493.10,358.23 494.52,360.73 494.60,363.40 C494.68,366.07 493.33,369.87 492.50,372.00 C491.67,374.13 492.35,375.40 489.60,376.20 C486.85,377.00 480.60,376.78 476.00,376.80 C471.40,376.82 464.70,377.10 462.00,376.30 C459.30,375.50 460.27,374.22 459.80,372.00 C459.33,369.78 459.23,366.00 459.20,363.00 C459.17,360.00 459.30,356.33 459.60,354.00 C459.90,351.67 460.35,350.23 461.00,349.00 Z"/>
</g>
<g filter="url(#bl)" fill="#050505">
<path d="M295.40,348.00 C296.00,347.28 296.98,346.62 298.00,346.20 C299.02,345.78 299.33,345.55 301.50,345.50 C303.67,345.45 307.67,345.77 311.00,345.90 C314.33,346.03 319.20,345.73 321.50,346.30 C323.80,346.87 324.05,347.22 324.80,349.30 C325.55,351.38 325.80,355.18 326.00,358.80 C326.20,362.42 326.37,368.18 326.00,371.00 C325.63,373.82 325.05,374.63 323.80,375.70 C322.55,376.77 320.80,376.92 318.50,377.40 C316.20,377.88 312.58,378.35 310.00,378.60 C307.42,378.85 305.17,378.95 303.00,378.90 C300.83,378.85 299.03,378.78 297.00,378.30 C294.97,377.82 292.58,376.95 290.80,376.00 C289.02,375.05 287.23,373.93 286.30,372.60 C285.37,371.27 285.32,369.35 285.20,368.00 C285.08,366.65 285.18,365.62 285.60,364.50 C286.02,363.38 286.58,362.30 287.70,361.30 C288.82,360.30 291.28,359.72 292.30,358.50 C293.32,357.28 293.45,355.33 293.80,354.00 C294.15,352.67 294.13,351.50 294.40,350.50 C294.67,349.50 294.80,348.72 295.40,348.00 Z"/>
<path d="M326.50,351.50 C327.07,349.33 326.58,349.38 329.00,349.00 C331.42,348.62 337.00,349.22 341.00,349.20 C345.00,349.18 350.50,348.52 353.00,348.90 C355.50,349.28 355.35,349.32 356.00,351.50 C356.65,353.68 356.90,358.50 356.90,362.00 C356.90,365.50 356.65,370.35 356.00,372.50 C355.35,374.65 355.50,374.48 353.00,374.90 C350.50,375.32 345.00,375.00 341.00,375.00 C337.00,375.00 331.50,375.32 329.00,374.90 C326.50,374.48 326.57,374.65 326.00,372.50 C325.43,370.35 325.52,365.50 325.60,362.00 C325.68,358.50 325.93,353.67 326.50,351.50 Z"/>
<path d="M461.00,349.00 C461.65,347.77 461.33,346.60 463.50,346.60 C465.67,346.60 470.42,348.80 474.00,349.00 C477.58,349.20 482.67,347.63 485.00,347.80 C487.33,347.97 486.83,348.63 488.00,350.00 C489.17,351.37 490.90,353.77 492.00,356.00 C493.10,358.23 494.52,360.73 494.60,363.40 C494.68,366.07 493.33,369.87 492.50,372.00 C491.67,374.13 492.35,375.40 489.60,376.20 C486.85,377.00 480.60,376.78 476.00,376.80 C471.40,376.82 464.70,377.10 462.00,376.30 C459.30,375.50 460.27,374.22 459.80,372.00 C459.33,369.78 459.23,366.00 459.20,363.00 C459.17,360.00 459.30,356.33 459.60,354.00 C459.90,351.67 460.35,350.23 461.00,349.00 Z"/>
</g></g>
<g filter="url(#bl4)" fill="#999" opacity="0.35">
<path d="M290.00,407.20 C293.10,406.30 301.22,407.60 307.00,407.60 C312.78,407.60 321.48,406.63 324.70,407.20 C327.92,407.77 326.05,409.20 326.30,411.00 C326.55,412.80 326.33,415.92 326.20,418.00 C326.07,420.08 325.83,421.75 325.50,423.50 C325.17,425.25 324.70,426.58 324.20,428.50 C323.70,430.42 323.13,433.43 322.50,435.00 C321.87,436.57 322.48,437.33 320.40,437.90 C318.32,438.47 313.32,438.40 310.00,438.40 C306.68,438.40 302.58,438.80 300.50,437.90 C298.42,437.00 298.17,434.57 297.50,433.00 C296.83,431.43 297.17,429.92 296.50,428.50 C295.83,427.08 294.67,426.08 293.50,424.50 C292.33,422.92 290.35,420.92 289.50,419.00 C288.65,417.08 288.32,414.97 288.40,413.00 C288.48,411.03 286.90,408.10 290.00,407.20 Z"/>
<path d="M326.20,407.20 C328.77,404.98 336.78,407.68 342.00,407.70 C347.22,407.72 354.73,406.58 357.50,407.30 C360.27,408.02 358.55,409.88 358.60,412.00 C358.65,414.12 358.25,417.57 357.80,420.00 C357.35,422.43 356.27,424.60 355.90,426.60 C355.53,428.60 355.88,430.27 355.60,432.00 C355.32,433.73 356.47,436.03 354.20,437.00 C351.93,437.97 345.95,437.77 342.00,437.80 C338.05,437.83 332.62,438.17 330.50,437.20 C328.38,436.23 329.62,433.78 329.30,432.00 C328.98,430.22 329.05,428.33 328.60,426.50 C328.15,424.67 327.00,424.22 326.60,421.00 C326.20,417.78 323.63,409.42 326.20,407.20 Z"/>
<path d="M360.50,408.60 C363.33,407.60 370.88,409.02 376.00,409.00 C381.12,408.98 388.47,407.83 391.20,408.50 C393.93,409.17 392.35,410.92 392.40,413.00 C392.45,415.08 392.08,418.45 391.50,421.00 C390.92,423.55 389.45,426.13 388.90,428.30 C388.35,430.47 388.60,432.05 388.20,434.00 C387.80,435.95 388.70,438.75 386.50,440.00 C384.30,441.25 378.83,441.42 375.00,441.50 C371.17,441.58 365.73,441.75 363.50,440.50 C361.27,439.25 362.10,435.92 361.60,434.00 C361.10,432.08 361.05,430.67 360.50,429.00 C359.95,427.33 358.55,426.33 358.30,424.00 C358.05,421.67 358.63,417.57 359.00,415.00 C359.37,412.43 357.67,409.60 360.50,408.60 Z"/>
<path d="M397.50,412.00 C400.20,411.43 406.50,411.60 411.00,411.60 C415.50,411.60 421.85,411.43 424.50,412.00 C427.15,412.57 426.48,413.33 426.90,415.00 C427.32,416.67 427.15,419.67 427.00,422.00 C426.85,424.33 426.58,427.42 426.00,429.00 C425.42,430.58 426.00,431.00 423.50,431.50 C421.00,432.00 415.17,432.00 411.00,432.00 C406.83,432.00 401.08,432.00 398.50,431.50 C395.92,431.00 396.15,430.58 395.50,429.00 C394.85,427.42 394.72,424.33 394.60,422.00 C394.48,419.67 394.32,416.67 394.80,415.00 C395.28,413.33 394.80,412.57 397.50,412.00 Z"/>
<path d="M432.00,409.80 C433.10,408.85 435.25,408.37 437.00,408.30 C438.75,408.23 440.67,409.47 442.50,409.40 C444.33,409.33 445.83,408.02 448.00,407.90 C450.17,407.78 453.73,408.02 455.50,408.70 C457.27,409.38 458.08,410.12 458.60,412.00 C459.12,413.88 458.83,417.58 458.60,420.00 C458.37,422.42 458.63,425.10 457.20,426.50 C455.77,427.90 452.87,428.08 450.00,428.40 C447.13,428.72 443.00,428.63 440.00,428.40 C437.00,428.17 433.62,428.23 432.00,427.00 C430.38,425.77 430.57,423.17 430.30,421.00 C430.03,418.83 430.12,415.87 430.40,414.00 C430.68,412.13 430.90,410.75 432.00,409.80 Z"/>
<path d="M461.20,409.50 C462.93,408.38 466.70,408.75 470.00,408.30 C473.30,407.85 477.10,407.55 481.00,406.80 C484.90,406.05 490.93,403.52 493.40,403.80 C495.87,404.08 495.43,406.30 495.80,408.50 C496.17,410.70 495.97,414.00 495.60,417.00 C495.23,420.00 494.37,424.42 493.60,426.50 C492.83,428.58 491.17,428.17 491.00,429.50 C490.83,430.83 493.02,432.92 492.60,434.50 C492.18,436.08 491.10,438.12 488.50,439.00 C485.90,439.88 480.67,439.83 477.00,439.80 C473.33,439.77 468.83,439.68 466.50,438.80 C464.17,437.92 463.68,436.13 463.00,434.50 C462.32,432.87 462.90,430.75 462.40,429.00 C461.90,427.25 460.47,426.33 460.00,424.00 C459.53,421.67 459.40,417.42 459.60,415.00 C459.80,412.58 459.47,410.62 461.20,409.50 Z"/>
</g>
<g filter="url(#bl)" fill="#050505">
<path d="M290.00,407.20 C293.10,406.30 301.22,407.60 307.00,407.60 C312.78,407.60 321.48,406.63 324.70,407.20 C327.92,407.77 326.05,409.20 326.30,411.00 C326.55,412.80 326.33,415.92 326.20,418.00 C326.07,420.08 325.83,421.75 325.50,423.50 C325.17,425.25 324.70,426.58 324.20,428.50 C323.70,430.42 323.13,433.43 322.50,435.00 C321.87,436.57 322.48,437.33 320.40,437.90 C318.32,438.47 313.32,438.40 310.00,438.40 C306.68,438.40 302.58,438.80 300.50,437.90 C298.42,437.00 298.17,434.57 297.50,433.00 C296.83,431.43 297.17,429.92 296.50,428.50 C295.83,427.08 294.67,426.08 293.50,424.50 C292.33,422.92 290.35,420.92 289.50,419.00 C288.65,417.08 288.32,414.97 288.40,413.00 C288.48,411.03 286.90,408.10 290.00,407.20 Z"/>
<path d="M326.20,407.20 C328.77,404.98 336.78,407.68 342.00,407.70 C347.22,407.72 354.73,406.58 357.50,407.30 C360.27,408.02 358.55,409.88 358.60,412.00 C358.65,414.12 358.25,417.57 357.80,420.00 C357.35,422.43 356.27,424.60 355.90,426.60 C355.53,428.60 355.88,430.27 355.60,432.00 C355.32,433.73 356.47,436.03 354.20,437.00 C351.93,437.97 345.95,437.77 342.00,437.80 C338.05,437.83 332.62,438.17 330.50,437.20 C328.38,436.23 329.62,433.78 329.30,432.00 C328.98,430.22 329.05,428.33 328.60,426.50 C328.15,424.67 327.00,424.22 326.60,421.00 C326.20,417.78 323.63,409.42 326.20,407.20 Z"/>
<path d="M360.50,408.60 C363.33,407.60 370.88,409.02 376.00,409.00 C381.12,408.98 388.47,407.83 391.20,408.50 C393.93,409.17 392.35,410.92 392.40,413.00 C392.45,415.08 392.08,418.45 391.50,421.00 C390.92,423.55 389.45,426.13 388.90,428.30 C388.35,430.47 388.60,432.05 388.20,434.00 C387.80,435.95 388.70,438.75 386.50,440.00 C384.30,441.25 378.83,441.42 375.00,441.50 C371.17,441.58 365.73,441.75 363.50,440.50 C361.27,439.25 362.10,435.92 361.60,434.00 C361.10,432.08 361.05,430.67 360.50,429.00 C359.95,427.33 358.55,426.33 358.30,424.00 C358.05,421.67 358.63,417.57 359.00,415.00 C359.37,412.43 357.67,409.60 360.50,408.60 Z"/>
<path d="M397.50,412.00 C400.20,411.43 406.50,411.60 411.00,411.60 C415.50,411.60 421.85,411.43 424.50,412.00 C427.15,412.57 426.48,413.33 426.90,415.00 C427.32,416.67 427.15,419.67 427.00,422.00 C426.85,424.33 426.58,427.42 426.00,429.00 C425.42,430.58 426.00,431.00 423.50,431.50 C421.00,432.00 415.17,432.00 411.00,432.00 C406.83,432.00 401.08,432.00 398.50,431.50 C395.92,431.00 396.15,430.58 395.50,429.00 C394.85,427.42 394.72,424.33 394.60,422.00 C394.48,419.67 394.32,416.67 394.80,415.00 C395.28,413.33 394.80,412.57 397.50,412.00 Z"/>
<path d="M432.00,409.80 C433.10,408.85 435.25,408.37 437.00,408.30 C438.75,408.23 440.67,409.47 442.50,409.40 C444.33,409.33 445.83,408.02 448.00,407.90 C450.17,407.78 453.73,408.02 455.50,408.70 C457.27,409.38 458.08,410.12 458.60,412.00 C459.12,413.88 458.83,417.58 458.60,420.00 C458.37,422.42 458.63,425.10 457.20,426.50 C455.77,427.90 452.87,428.08 450.00,428.40 C447.13,428.72 443.00,428.63 440.00,428.40 C437.00,428.17 433.62,428.23 432.00,427.00 C430.38,425.77 430.57,423.17 430.30,421.00 C430.03,418.83 430.12,415.87 430.40,414.00 C430.68,412.13 430.90,410.75 432.00,409.80 Z"/>
<path d="M461.20,409.50 C462.93,408.38 466.70,408.75 470.00,408.30 C473.30,407.85 477.10,407.55 481.00,406.80 C484.90,406.05 490.93,403.52 493.40,403.80 C495.87,404.08 495.43,406.30 495.80,408.50 C496.17,410.70 495.97,414.00 495.60,417.00 C495.23,420.00 494.37,424.42 493.60,426.50 C492.83,428.58 491.17,428.17 491.00,429.50 C490.83,430.83 493.02,432.92 492.60,434.50 C492.18,436.08 491.10,438.12 488.50,439.00 C485.90,439.88 480.67,439.83 477.00,439.80 C473.33,439.77 468.83,439.68 466.50,438.80 C464.17,437.92 463.68,436.13 463.00,434.50 C462.32,432.87 462.90,430.75 462.40,429.00 C461.90,427.25 460.47,426.33 460.00,424.00 C459.53,421.67 459.40,417.42 459.60,415.00 C459.80,412.58 459.47,410.62 461.20,409.50 Z"/>
</g>
<g filter="url(#bl2)" fill="#1a1a1a">
<path d="M399.5,440.8 Q409,437.6 419,438 Q423,440 419,442.4 Q409,443.2 399.5,440.8 Z" fill="#303030"/>
<ellipse cx="417" cy="440.2" rx="4.6" ry="2.4"/>
<path d="M433.5,438.6 Q443,435.6 451,435.6 Q451,438.6 443,439.8 Q436,440.2 433.5,438.6 Z" fill="#4a4a4a"/>
<ellipse cx="451.5" cy="436.9" rx="4.2" ry="2.5"/>
</g>
<ellipse cx="372" cy="352.5" rx="11" ry="0.9" fill="#a0a0a0" filter="url(#bl2)"/>
<ellipse cx="372" cy="344.5" rx="2.6" ry="3.2" fill="#d2d2d2" filter="url(#bl)"/>
</svg></body></html>
